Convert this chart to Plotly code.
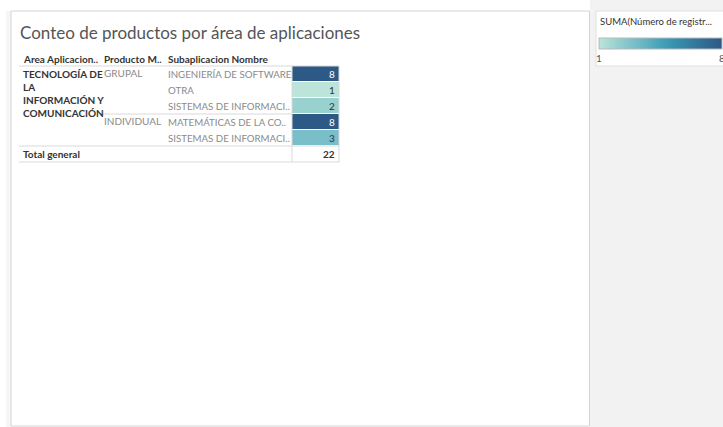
import plotly.graph_objects as go

# ---- data ----
titulo = "Conteo de productos por área de aplicaciones"
encabezados = ["Area Aplicacion..", "Producto M..", "Subaplicacion Nombre"]
area = "TECNOLOGÍA DE<br>LA<br>INFORMACIÓN Y<br>COMUNICACIÓN"
productos = ["GRUPAL", "", "", "INDIVIDUAL", ""]
subaplicaciones = ["INGENIERÍA DE SOFTWARE", "OTRA", "SISTEMAS DE INFORMACI..",
                   "MATEMÁTICAS DE LA CO..", "SISTEMAS DE INFORMACI.."]
valores = [8, 1, 2, 8, 3]
total_label = "Total general"
leyenda_titulo = "SUMA(Número de registr..."
blue_teal = ["#bce4d8", "#9dd3d0", "#81c3cb", "#65b3c2", "#45a2b9",
             "#368fae", "#347da0", "#306a93", "#2c5985"]

W, H = 723, 427
ROW = 16
TOP = 66  # screen y of top of first data row
FONT = "Lato"


def ry(px):
    """screen y -> row units"""
    return (px - TOP) / ROW - 0.5


def py(px):
    """screen y -> paper"""
    return 1 - px / H


def pxp(px):
    """screen x -> paper"""
    return px / W


n = len(valores)
zmin, zmax = min(valores), max(valores)
colorscale = [[i / (len(blue_teal) - 1), c] for i, c in enumerate(blue_teal)]

fig = go.Figure()

fig.add_trace(go.Heatmap(
    z=[[v] for v in valores],
    x=[292, 339],
    y=[i - 0.5 for i in range(n + 1)],
    zmin=zmin, zmax=zmax,
    colorscale=colorscale,
    ygap=1,
    hoverinfo="skip",
    colorbar=dict(
        orientation="h",
        x=pxp(599), xanchor="left",
        y=py(38), yanchor="top",
        thickness=11, thicknessmode="pixels",
        len=123, lenmode="pixels",
        outlinecolor="#b9b9b9", outlinewidth=1,
        tickvals=[zmin, zmax], ticktext=[str(zmin), str(zmax)],
        ticks="", ticklabelposition="outside bottom",
        ticklabeloverflow="allow",
        tickfont=dict(family=FONT, size=10, color="#555555"),
        xpad=0, ypad=0,
    ),
))

shapes = []
# backgrounds / panels
shapes.append(dict(type="rect", xref="x", yref="paper", x0=590, x1=W, y0=0, y1=1,
                   fillcolor="#f2f2f2", line=dict(width=0), layer="below"))
shapes.append(dict(type="rect", xref="x", yref="paper", x0=6, x1=11, y0=0, y1=py(11),
                   fillcolor="#f6f6f6", line=dict(width=0), layer="below"))
shapes.append(dict(type="rect", xref="x", yref="paper", x0=11, x1=589.5, y0=py(426), y1=py(11),
                   fillcolor="white", line=dict(color="#d4d4d4", width=1), layer="below"))
shapes.append(dict(type="rect", xref="x", yref="paper", x0=596, x1=W + 5, y0=py(66), y1=py(11),
                   fillcolor="white", line=dict(color="#e0e0e0", width=1), layer="below"))
# table lines
lc = "#d9d9d9"
shapes.append(dict(type="line", xref="x", yref="y", x0=19, x1=339, y0=-0.5, y1=-0.5, line=dict(color=lc, width=1)))
shapes.append(dict(type="line", xref="x", yref="y", x0=100, x1=292, y0=2.5, y1=2.5, line=dict(color=lc, width=1)))
shapes.append(dict(type="line", xref="x", yref="y", x0=19, x1=339, y0=n - 0.5, y1=n - 0.5, line=dict(color=lc, width=1)))
shapes.append(dict(type="line", xref="x", yref="y", x0=19, x1=339, y0=n + 0.5, y1=n + 0.5, line=dict(color=lc, width=1)))
shapes.append(dict(type="line", xref="x", yref="y", x0=292, x1=292, y0=-0.5, y1=n + 0.5, line=dict(color=lc, width=1)))
shapes.append(dict(type="line", xref="x", yref="y", x0=339, x1=339, y0=-0.5, y1=n + 0.5, line=dict(color=lc, width=1)))

ann = []
# title
ann.append(dict(text=titulo, x=18, y=ry(32), xref="x", yref="y", xanchor="left", yanchor="middle",
                showarrow=False, font=dict(family=FONT, size=17, color="#555555")))
# headers
for txt, xpos in zip(encabezados, [21, 102, 166]):
    ann.append(dict(text="<b>" + txt + "</b>", x=xpos, y=ry(58.5), xref="x", yref="y",
                    xanchor="left", yanchor="middle", showarrow=False,
                    font=dict(family=FONT, size=10, color="#333333")))
# area
ann.append(dict(text="<b>" + area + "</b>", x=21, y=ry(66), xref="x", yref="y",
                xanchor="left", yanchor="top", align="left", showarrow=False,
                font=dict(family=FONT, size=10, color="#333333")))
# products
for i, p in enumerate(productos):
    if p:
        ann.append(dict(text=p, x=102, y=i - 0.08, xref="x", yref="y", xanchor="left", yanchor="middle",
                        showarrow=False, font=dict(family=FONT, size=10, color="#8a8a8a")))
# subapps
for i, s in enumerate(subaplicaciones):
    ann.append(dict(text=s, x=166, y=i, xref="x", yref="y", xanchor="left", yanchor="middle",
                    showarrow=False, font=dict(family=FONT, size=9.7, color="#8a8a8a")))
# values
for i, v in enumerate(valores):
    frac = (v - zmin) / (zmax - zmin)
    ann.append(dict(text=str(v), x=337, y=i, xref="x", yref="y", xanchor="right", yanchor="middle",
                    showarrow=False,
                    font=dict(family=FONT, size=10, color="#ffffff" if frac > 0.6 else "#333333")))
# total
ann.append(dict(text="<b>" + total_label + "</b>", x=21, y=n, xref="x", yref="y", xanchor="left",
                yanchor="middle", showarrow=False, font=dict(family=FONT, size=10, color="#333333")))
ann.append(dict(text="<b>" + str(sum(valores)) + "</b>", x=337, y=n, xref="x", yref="y", xanchor="right",
                yanchor="middle", showarrow=False, font=dict(family=FONT, size=10, color="#333333")))
# legend title
ann.append(dict(text=leyenda_titulo, x=598, y=py(21), xref="x", yref="paper", xanchor="left",
                yanchor="middle", showarrow=False, font=dict(family=FONT, size=9.5, color="#333333")))

fig.update_layout(
    width=W, height=H,
    margin=dict(l=0, r=0, t=0, b=0, pad=0, autoexpand=False),
    paper_bgcolor="white", plot_bgcolor="rgba(0,0,0,0)",
    xaxis=dict(range=[0, W], visible=False, fixedrange=True),
    yaxis=dict(range=[ry(H), ry(0)], visible=False, fixedrange=True),
    shapes=shapes, annotations=ann,
    showlegend=False,
)

fig.write_html("out.html", config={"displayModeBar": False},
               post_script="document.body.style.margin='0';document.body.style.overflow='hidden';")
